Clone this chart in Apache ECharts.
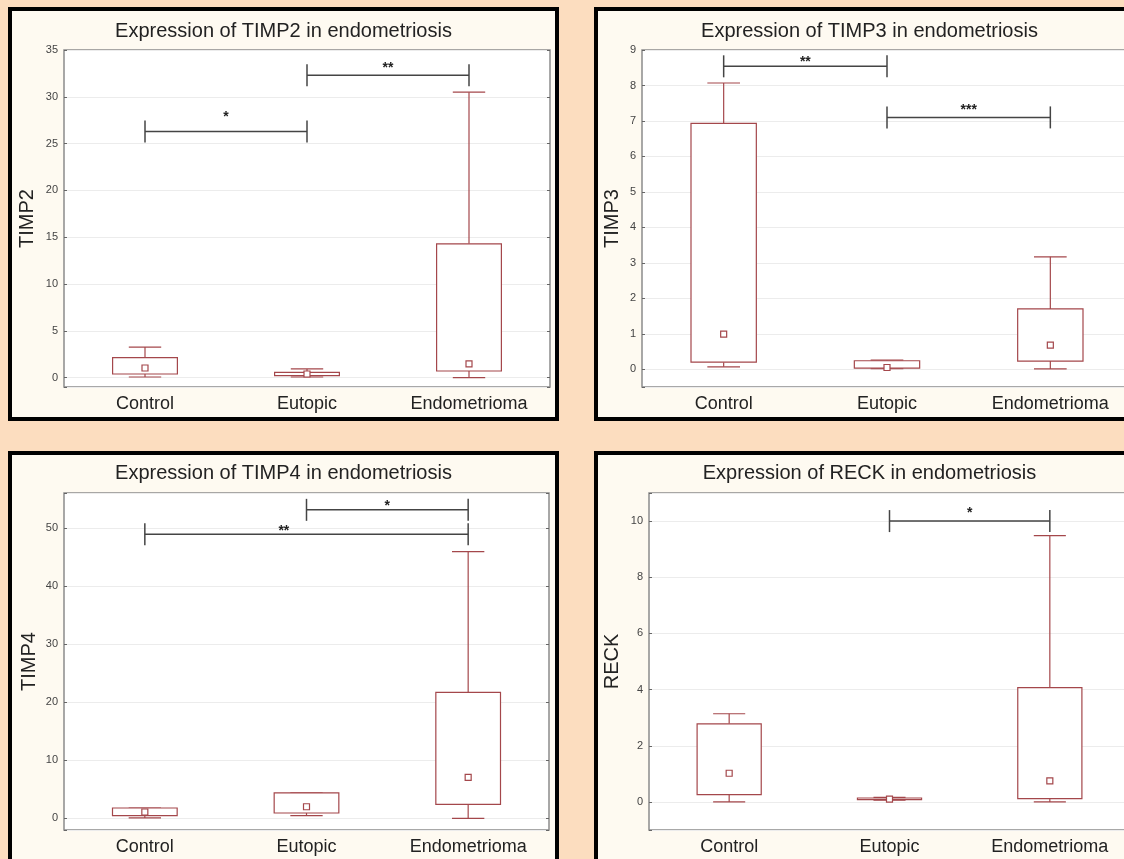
<!DOCTYPE html>
<html>
<head>
<meta charset="utf-8">
<script src="https://cdn.jsdelivr.net/npm/echarts@6/dist/echarts.min.js"></script>
<style>
  html, body { margin: 0; padding: 0; }
  body { width: 1124px; height: 859px; overflow: hidden; position: relative; background: #fcddbf; }
  .panel { position: absolute; width: 551px; height: 414px; box-sizing: border-box;
           border: 4px solid #000; background: #fefaf1; }
  .chart { width: 100%; height: 100%; }
</style>
</head>
<body>
<div class="panel" style="left:8px; top:7px"><div class="chart" id="p1"></div></div>
<div class="panel" style="left:594px; top:7px"><div class="chart" id="p2"></div></div>
<div class="panel" style="left:8px; top:451px"><div class="chart" id="p3"></div></div>
<div class="panel" style="left:594px; top:451px"><div class="chart" id="p4"></div></div>
<script>
// boxplots: min, 25%, median, 75%, max per group
const categories = ['Control', 'Eutopic', 'Endometrioma'];

const timp2Stats = [
  [0.07, 0.39, 1.03, 2.13, 3.27],
  [0.07, 0.21, 0.39, 0.57, 0.93],
  [0.0, 0.71, 1.46, 14.3, 30.5],
];
const timp2Ticks = [0, 5, 10, 15, 20, 25, 30, 35];
// [from, to, bar y, stars, star position along bar, star y]
const timp2Sig = [[0, 1, 26.3, '*', 0.5, 28.1], [1, 2, 32.3, '**', 0.5, 33.4]];

const timp3Stats = [
  [0.07, 0.2, 0.99, 6.93, 8.07],
  [0.02, 0.03, 0.05, 0.24, 0.26],
  [0.01, 0.23, 0.68, 1.7, 3.17],
];
const timp3Ticks = [0, 1, 2, 3, 4, 5, 6, 7, 8, 9];
const timp3Sig = [[0, 1, 8.54, '**', 0.5, 8.75], [1, 2, 7.1, '***', 0.5, 7.38]];

const timp4Stats = [
  [0.07, 0.46, 1.1, 1.79, 1.79],
  [0.46, 0.93, 2.0, 4.4, 4.4],
  [0.0, 2.4, 7.05, 21.7, 45.9],
];
const timp4Ticks = [0, 10, 20, 30, 40, 50];
const timp4Sig = [[1, 2, 53.1, '*', 0.5, 54.3], [0, 2, 48.9, '**', 0.43, 50.0]];

const reckStats = [
  [0.0, 0.26, 1.02, 2.78, 3.14],
  [0.06, 0.08, 0.1, 0.14, 0.16],
  [0.0, 0.12, 0.75, 4.07, 9.48],
];
const reckTicks = [0, 2, 4, 6, 8, 10];
const reckSig = [[1, 2, 10.0, '*', 0.5, 10.38]];

const FONT = '"Liberation Sans", Arial, sans-serif';
const BOX = '#a4474b';
const INK = '#222';

function renderBox(params, api) {
  const i = api.value(0);
  const [mn, q1, md, q3, mx] = [1, 2, 3, 4, 5].map(k => api.value(k));
  const w = api.size([1, 0])[0] * 0.4;
  const cx = api.coord([i, 0])[0];
  const y = v => api.coord([i, v])[1];
  const st = { stroke: BOX, lineWidth: 1.2, fill: null };
  return {
    type: 'group',
    children: [
      { type: 'line', shape: { x1: cx, y1: y(q3), x2: cx, y2: y(mx) }, style: st },
      { type: 'line', shape: { x1: cx, y1: y(q1), x2: cx, y2: y(mn) }, style: st },
      { type: 'line', shape: { x1: cx - w / 4, y1: y(mx), x2: cx + w / 4, y2: y(mx) }, style: st },
      { type: 'line', shape: { x1: cx - w / 4, y1: y(mn), x2: cx + w / 4, y2: y(mn) }, style: st },
      { type: 'rect', shape: { x: cx - w / 2, y: y(q3), width: w, height: Math.max(y(q1) - y(q3), 1) },
        style: { stroke: BOX, lineWidth: 1.2, fill: '#fff' } },
      { type: 'rect', shape: { x: cx - 3, y: y(md) - 3, width: 6, height: 6 },
        style: { stroke: BOX, lineWidth: 1.2, fill: '#fff' } },
    ],
  };
}

function bracketRenderer(sig) {
  return (params, api) => {
    const s = sig[params.dataIndex];
    const a = api.coord([api.value(0), api.value(2)]);
    const b = api.coord([api.value(1), api.value(2)]);
    const sx = a[0] + api.value(3) * (b[0] - a[0]);
    const sy = api.coord([api.value(0), api.value(4)])[1];
    const st = { stroke: '#444', lineWidth: 1.5 };
    return {
      type: 'group',
      children: [
        { type: 'line', shape: { x1: a[0], y1: a[1], x2: b[0], y2: b[1] }, style: st },
        { type: 'line', shape: { x1: a[0], y1: a[1] - 11, x2: a[0], y2: a[1] + 11 }, style: st },
        { type: 'line', shape: { x1: b[0], y1: b[1] - 11, x2: b[0], y2: b[1] + 11 }, style: st },
        { type: 'text', x: sx, y: sy + 3,
          style: { text: s[3], fill: INK, font: 'bold 14px ' + FONT, align: 'center', verticalAlign: 'middle' } },
      ],
    };
  };
}

function panel(id, { title, name, stats, ticks, sig, min, max, grid, nameGap, titleTop }) {
  const c = echarts.init(document.getElementById(id), null, { renderer: 'canvas' });
  const step = ticks[1] - ticks[0];
  const yBase = {
    type: 'value', min, max, minInterval: step, maxInterval: step, splitNumber: ticks.length,
    axisLine: { show: false },
  };
  c.setOption({
    animation: false,
    textStyle: { fontFamily: FONT },
    title: {
      text: title, left: 'center', top: titleTop, padding: 0,
      textStyle: { fontSize: 20, fontWeight: 'normal', color: INK, fontFamily: FONT },
    },
    grid: { ...grid, containLabel: false, outerBoundsMode: 'none',
            show: true, backgroundColor: '#fff', borderColor: '#8c8c8c', borderWidth: 1.5 },
    xAxis: [
      {
        type: 'category', data: categories, position: 'bottom',
        axisLine: { show: false },
        axisTick: { inside: true, length: 3, alignWithLabel: true, lineStyle: { color: '#666' } },
        axisLabel: { color: INK, fontSize: 18, margin: 8, fontFamily: FONT },
      },
      {
        type: 'category', data: categories, position: 'top',
        axisLine: { show: false },
        axisTick: { inside: true, length: 3, alignWithLabel: true, lineStyle: { color: '#666' } },
        axisLabel: { show: false },
      },
    ],
    yAxis: [
      {
        ...yBase, position: 'left',
        name, nameLocation: 'middle', nameGap, nameMoveOverlap: false,
        nameTextStyle: { fontSize: 20, color: INK, fontFamily: FONT },
        axisTick: { show: true, inside: true, length: 3, lineStyle: { color: '#666' } },
        axisLabel: { color: '#444', fontSize: 11, margin: 6, fontFamily: FONT,
                     formatter: v => ticks.includes(v) ? String(v) : '' },
        splitLine: { lineStyle: { color: '#ececec', width: 1 } },
      },
      {
        ...yBase, position: 'right',
        axisTick: { show: true, inside: true, length: 3, lineStyle: { color: '#666' } },
        axisLabel: { show: false },
        splitLine: { show: false },
      },
    ],
    series: [
      {
        type: 'custom', renderItem: renderBox,
        encode: { x: 0, y: [1, 2, 3, 4, 5] },
        data: stats.map((s, i) => [i, ...s]),
      },
      {
        type: 'custom', renderItem: bracketRenderer(sig),
        encode: { x: [0, 1], y: [2, 4] },
        data: sig.map(s => [s[0], s[1], s[2], s[4], s[5]]),
      },
    ],
  });
  return c;
}

panel('p1', {
  title: 'Expression of TIMP2 in endometriosis', name: 'TIMP2',
  stats: timp2Stats, ticks: timp2Ticks, sig: timp2Sig, min: -1, max: 35,
  grid: { left: 52, top: 39, right: 5, bottom: 30 }, nameGap: 27, titleTop: 10,
});
panel('p2', {
  title: 'Expression of TIMP3 in endometriosis', name: 'TIMP3',
  stats: timp3Stats, ticks: timp3Ticks, sig: timp3Sig, min: -0.5, max: 9,
  grid: { left: 44, top: 39, right: 9, bottom: 30 }, nameGap: 20, titleTop: 10,
});
panel('p3', {
  title: 'Expression of TIMP4 in endometriosis', name: 'TIMP4',
  stats: timp4Stats, ticks: timp4Ticks, sig: timp4Sig, min: -2, max: 56,
  grid: { left: 52, top: 38, right: 6, bottom: 31 }, nameGap: 25, titleTop: 8,
});
panel('p4', {
  title: 'Expression of RECK in endometriosis', name: 'RECK',
  stats: reckStats, ticks: reckTicks, sig: reckSig, min: -1, max: 11,
  grid: { left: 51, top: 38, right: 11, bottom: 31 }, nameGap: 27, titleTop: 8,
});
</script>
</body>
</html>
